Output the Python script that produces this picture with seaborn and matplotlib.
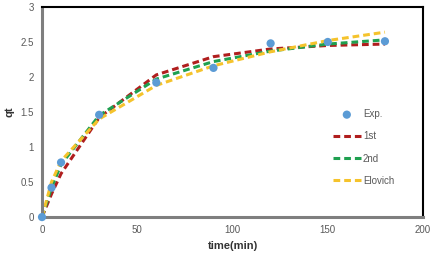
import pandas as pd
import matplotlib.pyplot as plt
import seaborn as sns

time = [0, 5, 10, 30, 60, 90, 120, 150, 180]
exp_qt = [0, 0.42, 0.78, 1.46, 1.92, 2.13, 2.48, 2.50, 2.51]
first = [0, 0.33, 0.62, 1.42, 2.03, 2.29, 2.40, 2.45, 2.47]
second = [0, 0.42, 0.75, 1.45, 1.97, 2.22, 2.37, 2.47, 2.53]
elovich = [0, 0.50, 0.80, 1.40, 1.88, 2.16, 2.36, 2.52, 2.64]

sns.set_style("white")
plt.rcParams['font.family'] = ['Liberation Sans', 'DejaVu Sans']

fig = plt.figure(figsize=(4.33, 2.67), dpi=100)
ax = fig.add_axes([0.097, 0.187, 0.88, 0.787])

models = pd.DataFrame({
    'time': time * 3,
    'qt': first + second + elovich,
    'model': ['1st'] * 9 + ['2nd'] * 9 + ['Elovich'] * 9,
})
expDF = pd.DataFrame({'time': time, 'qt': exp_qt})

sns.scatterplot(data=expDF, x='time', y='qt', ax=ax, color='#5B9BD5', s=35,
                edgecolor='none', label='Exp.', zorder=3, clip_on=False)
pal = {'1st': '#B01E1E', '2nd': '#1FA050', 'Elovich': '#F5C32C'}
sns.lineplot(data=models, x='time', y='qt', hue='model', palette=pal, ax=ax,
             linewidth=2.2, dashes=False, zorder=2)
for l in ax.lines:
    l.set_linestyle((0, (2.2, 1.3)))

ax.set_xlim(0, 200)
ax.set_ylim(0, 3)
ax.set_xticks([0, 50, 100, 150, 200])
ax.set_yticks([0, 0.5, 1, 1.5, 2, 2.5, 3])
ax.set_yticklabels(['0', '0.5', '1', '1.5', '2', '2.5', '3'])
ax.tick_params(labelsize=7, colors='#595959', length=0, pad=6)
ax.set_xlabel('time(min)', fontsize=8, fontweight='bold', color='#333333')
ax.set_ylabel('qt', fontsize=8, fontweight='bold', color='#333333', labelpad=4)

for s in ['left', 'bottom']:
    ax.spines[s].set_color('#7F7F7F')
    ax.spines[s].set_linewidth(2.2)
for s in ['top', 'right']:
    ax.spines[s].set_color('black')
    ax.spines[s].set_linewidth(1.5)

h, lab = ax.get_legend_handles_labels()
leg = ax.legend(h, lab, loc='upper left', bbox_to_anchor=(0.74, 0.555),
                frameon=False, fontsize=7, handlelength=2.9,
                labelspacing=1.25, handletextpad=0.2)
for t in leg.get_texts():
    t.set_color('#595959')

fig.savefig('out.png', dpi=100)
